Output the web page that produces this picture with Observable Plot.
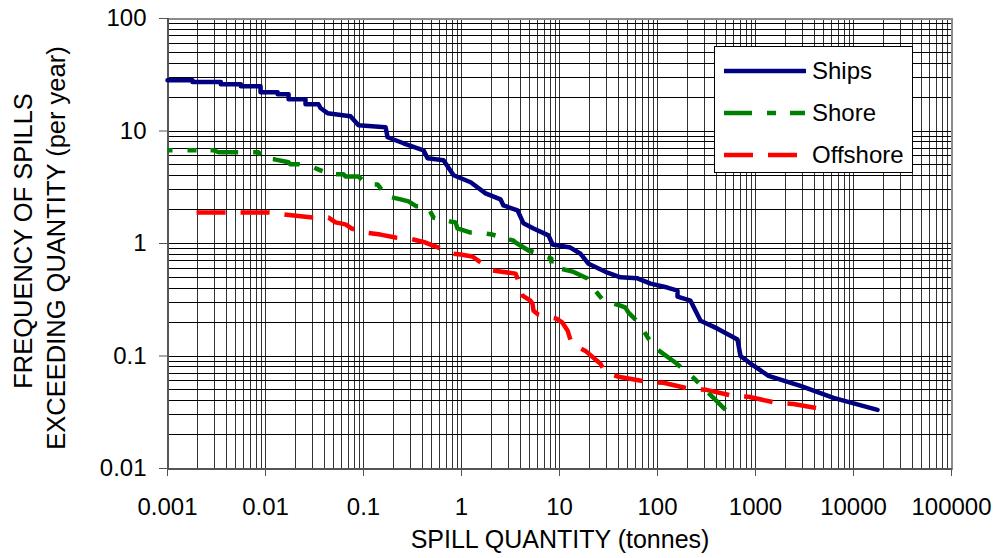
<!DOCTYPE html>
<html>
<head>
<meta charset="utf-8">
<script src="https://cdn.jsdelivr.net/npm/d3@7"></script>
<script src="https://cdn.jsdelivr.net/npm/@observablehq/plot@0.6"></script>
<style>
  html, body { margin: 0; padding: 0; background: #fff; }
  #wrap { position: relative; width: 997px; height: 558px; font-family: "Liberation Sans", Arial, sans-serif; color: #000; }
  .ttl { position: absolute; white-space: nowrap; line-height: 25px; font-size: 25px; transform: translate(-50%, -50%); }
  .ttl.rot { transform: translate(-50%, -50%) rotate(-90deg); font-size: 25.5px; }
  #legend { position: absolute; left: 714px; top: 46px; width: 197px; height: 125px; background: #fff; border: 1px solid #000; }
  .lg { position: absolute; left: 0; height: 30px; width: 197px; }
  .lg svg { position: absolute; left: 9px; top: 0; }
  .lg span { position: absolute; left: 97px; top: 3px; font-size: 24px; line-height: 24px; }
</style>
</head>
<body>
<div id="wrap"></div>
<script>
// ---- data ----
const shipsQty  = [0.001,0.0018,0.0018,0.0035,0.0035,0.0056,0.0056,0.0089,0.0089,0.0133,0.0133,0.0172,0.0172,0.0256,0.0256,0.0347,0.0364,0.0429,0.0737,0.089,0.168,0.176,0.256,0.41,0.45,0.655,0.83,1.24,1.76,2.5,2.68,3.73,4.29,5.43,7.72,8.49,12.9,16.4,19.8,30.9,41.9,62.5,84.9,126,160,160,217,275,410,655,703,955,1358,2878,6252,17580];
const shipsFreq = [28.3,28.3,27.2,27.2,26.1,26.1,25.0,25.0,22.1,22.1,21.2,21.2,19.2,19.2,17.3,17.3,16.0,14.4,13.5,11.25,10.8,8.8,7.78,6.74,5.72,5.49,4.04,3.5,2.79,2.47,2.18,1.97,1.51,1.36,1.18,0.98,0.92,0.81,0.66,0.55,0.50,0.49,0.44,0.406,0.381,0.337,0.31,0.206,0.175,0.14,0.1,0.082,0.0667,0.0543,0.0425,0.0332];

const shoreQty  = [0.001,0.00295,0.00332,0.00848,0.0093,0.01236,0.01717,0.018,0.0217,0.0309,0.0364,0.046,0.0625,0.0655,0.089,0.107,0.139,0.164,0.176,0.239,0.288,0.347,0.45,0.518,0.772,0.868,0.91,1.24,1.53,2.07,2.81,3.4,3.56,4.83,5.69,8.28,8.28,10.2,13.6,19.3,20.7,28.1,41.9,47.1,50.6,65.5,72,91,153,202,233,316,494];
const shoreFreq = [6.74,6.74,6.47,6.47,5.72,5.60,5.27,5.06,5.06,4.75,4.47,4.12,4.12,3.95,3.95,3.35,3.35,2.79,2.62,2.47,2.37,2.14,2.14,1.70,1.57,1.54,1.36,1.25,1.25,1.20,1.11,1.06,1.02,0.866,0.83,0.735,0.624,0.599,0.563,0.488,0.431,0.31,0.28,0.269,0.243,0.194,0.168,0.121,0.087,0.071,0.064,0.049,0.0332];

const offQty  = [0.00198,0.011,0.0156,0.0302,0.044,0.0518,0.0655,0.0755,0.107,0.149,0.212,0.288,0.429,0.582,0.828,0.977,1.29,1.53,2.07,3.56,3.73,4.19,5.06,5.3,5.43,6.1,9.31,10.7,12.1,13.3,18.4,26.2,29.4,40,77.2,115,212,316,582,849,1637,2443,4603];
const offFreq = [1.89,1.89,1.81,1.70,1.70,1.54,1.48,1.36,1.25,1.20,1.13,1.11,1.02,0.92,0.81,0.798,0.766,0.69,0.575,0.54,0.488,0.344,0.31,0.292,0.253,0.233,0.215,0.198,0.168,0.1286,0.111,0.0853,0.071,0.0654,0.059,0.0578,0.051,0.050,0.0443,0.0434,0.0383,0.0375,0.0339];

const seriesNames  = ["Ships", "Shore", "Offshore"];
const seriesColors = ["#000080", "#008000", "#ff0000"];

const xTicks = [0.001, 0.01, 0.1, 1, 10, 100, 1000, 10000, 100000];
const xTickLabels = ["0.001", "0.01", "0.1", "1", "10", "100", "1000", "10000", "100000"];
const yTicks = [0.01, 0.1, 1, 10, 100];
const yTickLabels = ["0.01", "0.1", "1", "10", "100"];

const xTitle = "SPILL QUANTITY (tonnes)";
const yTitle1 = "FREQUENCY OF SPILLS";
const yTitle2 = "EXCEEDING QUANTITY (per year)";

// ---- derived ----
const toRows = (xs, ys) => xs.map((x, i) => ({x, y: ys[i]}));
const ships = toRows(shipsQty, shipsFreq);
const shore = toRows(shoreQty, shoreFreq);
const offshore = toRows(offQty, offFreq);

const minor = (lo, hi) => {
  const out = [];
  for (let e = lo; e < hi; e++) for (let m = 1; m <= 9; m++) out.push(+(m * Math.pow(10, e)).toPrecision(6));
  return out;
};
const xGrid = minor(-3, 5);
const yGrid = minor(-2, 2);

const dashShore = "28,15,9,14";
const dashOff = "29,15";

const chart = Plot.plot({
  width: 997,
  height: 558,
  marginLeft: 167,
  marginRight: 46,
  marginTop: 18,
  marginBottom: 90,
  style: {fontFamily: "'Liberation Sans', Arial, sans-serif", fontSize: "24px", background: "#fff", color: "#000"},
  x: {type: "log", domain: [0.001, 100000]},
  y: {type: "log", domain: [0.01, 100]},
  marks: [
    Plot.gridX(xGrid, {stroke: "#333", strokeOpacity: 1, strokeWidth: 1, shapeRendering: "crispEdges"}),
    Plot.gridY(yGrid, {stroke: "#000", strokeOpacity: 1, strokeWidth: 1, shapeRendering: "crispEdges"}),
    Plot.frame({stroke: "#8c8c8c", strokeWidth: 2, shapeRendering: "crispEdges"}),
    Plot.ruleX([0.001], {stroke: "#555", strokeWidth: 2, shapeRendering: "crispEdges"}),
    Plot.ruleY([0.01], {stroke: "#555", strokeWidth: 2, shapeRendering: "crispEdges"}),
    Plot.line(offshore, {x: "x", y: "y", stroke: seriesColors[2], strokeWidth: 4.5, strokeDasharray: dashOff, strokeLinecap: "butt"}),
    Plot.line(shore, {x: "x", y: "y", stroke: seriesColors[1], strokeWidth: 4.5, strokeDasharray: dashShore, strokeDashoffset: 23, strokeLinecap: "butt"}),
    Plot.line(ships, {x: "x", y: "y", stroke: seriesColors[0], strokeWidth: 4.5, strokeLinejoin: "round"}),
    Plot.axisX(xTicks, {tickSize: 8, tickPadding: 21, fontSize: 24, stroke: "#555", tickFormat: d => xTickLabels[xTicks.indexOf(d)], label: null}),
    Plot.axisY(yTicks, {tickSize: 8, tickPadding: 13, fontSize: 24, stroke: "#555", tickFormat: d => yTickLabels[yTicks.indexOf(d)], label: null})
  ]
});

const wrap = document.getElementById("wrap");
wrap.appendChild(chart);

function addTitle(text, cx, cy, rot) {
  const d = document.createElement("div");
  d.className = "ttl" + (rot ? " rot" : "");
  d.textContent = text;
  d.style.left = cx + "px";
  d.style.top = cy + "px";
  wrap.appendChild(d);
}
addTitle(xTitle, 560, 539, false);
addTitle(yTitle1, 23, 241, true);
addTitle(yTitle2, 56, 248, true);

// legend (HTML overlay)
const legend = document.createElement("div");
legend.id = "legend";
const dashes = [null, dashShore, dashOff];
const rowsY = [9, 51, 93];
seriesNames.forEach((name, i) => {
  const row = document.createElement("div");
  row.className = "lg";
  row.style.top = rowsY[i] + "px";
  const svg = d3.create("svg").attr("width", 82).attr("height", 30);
  svg.append("line").attr("x1", 0).attr("x2", 81).attr("y1", 15).attr("y2", 15)
    .attr("stroke", seriesColors[i]).attr("stroke-width", 4.5)
    .attr("stroke-dasharray", dashes[i]).attr("stroke-linecap", i === 0 ? "round" : "butt");
  row.appendChild(svg.node());
  const sp = document.createElement("span");
  sp.textContent = name;
  row.appendChild(sp);
  legend.appendChild(row);
});
wrap.appendChild(legend);
</script>
</body>
</html>
